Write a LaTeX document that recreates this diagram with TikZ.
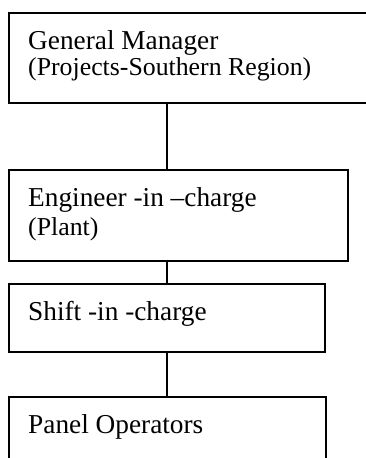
\documentclass[tikz,border=0pt]{standalone}
\usepackage{fontspec}
\setmainfont{Liberation Serif}
\begin{document}
\begin{tikzpicture}[x=1pt,y=-1pt,
  box/.style={draw=black,line width=1.1pt,rectangle,anchor=north west,inner sep=0pt,outer sep=0pt},
  big/.style={anchor=base west,inner sep=0pt,font=\fontsize{27.3}{30}\selectfont},
  small/.style={anchor=base west,inner sep=0pt,font=\fontsize{25.8}{28}\selectfont},
  link/.style={draw=black,line width=1.1pt}]
\useasboundingbox (0,0) rectangle (366,458);
\clip (0,0) rectangle (366,458);
\node[box,minimum width=361pt,minimum height=90pt] (gm) at (9,13) {};
\node[box,minimum width=339pt,minimum height=91pt] (eng) at (9,170) {};
\node[box,minimum width=316pt,minimum height=68pt] (shift) at (9,284) {};
\node[box,minimum width=317pt,minimum height=80pt] (panel) at (9,397) {};
\node[big] (t1) at (28,49) {General Manager};
\node[small] (t1b) at (28,75) {(Projects-Southern Region)};
\node[big] (t2) at (28,206) {Engineer -in –charge};
\node[small] (t2b) at (28,235) {(Plant)};
\node[big] (t3) at (28,320) {Shift -in -charge};
\node[big] (t4) at (28,433) {Panel Operators};
\draw[link] (gm.south -| shift.north) -- (eng.north -| shift.north);
\draw[link] (eng.south -| shift.north) -- (shift.north);
\draw[link] (shift.south) -- (panel.north -| shift.south);
\end{tikzpicture}
\end{document}
